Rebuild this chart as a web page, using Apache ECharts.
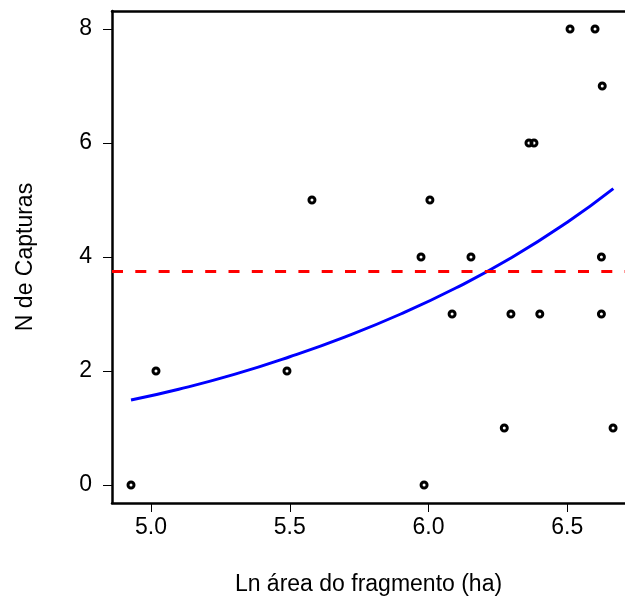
<!DOCTYPE html>
<html>
<head>
<meta charset="utf-8">
<script src="https://cdn.jsdelivr.net/npm/echarts@6/dist/echarts.min.js"></script>
<style>html,body{margin:0;padding:0;background:#fff}#c{width:625px;height:601px}</style>
</head>
<body>
<div id="c"></div>
<script>
// Observed points: Ln area (x) and number of captures (y)
var lnArea   = [4.928, 5.018, 5.490, 5.580, 5.973, 5.984, 6.005, 6.085, 6.153, 6.273, 6.297, 6.362, 6.380, 6.401, 6.510, 6.600, 6.623, 6.623, 6.626, 6.665];
var captures = [0,     2,     2,     5,     4,     0,     5,     3,     4,     1,     3,     6,     6,     3,     8,     8,     4,     3,     7,     1];
// Fitted curve
var curveX = [4.928, 5.1, 5.3, 5.5, 5.7, 5.9, 6.1, 6.3, 6.5, 6.666];
var curveY = [1.49, 1.68, 1.94, 2.25, 2.60, 3.00, 3.46, 3.99, 4.61, 5.20];
// Mean line
var meanCaptures = 3.75;
// Tick labels
var xTicks = [5.0, 5.5, 6.0, 6.5];
var yTicks = [0, 2, 4, 6, 8];

var FONT = 'Liberation Sans, Arial, sans-serif';
var chart = echarts.init(document.getElementById('c'), null, {renderer: 'canvas'});
var pts = lnArea.map(function (x, i) { return [x, captures[i]]; });
var curve = curveX.map(function (x, i) { return [x, curveY[i]]; });

chart.setOption({
  animation: false,
  backgroundColor: '#fff',
  grid: {left: 112, top: 11, right: 0, bottom: 98, containLabel: false},
  xAxis: [{
    type: 'value', min: 4.8595, max: 6.708, position: 'bottom',
    name: 'Ln área do fragmento (ha)', nameLocation: 'middle', nameGap: 70,
    nameTextStyle: {fontFamily: FONT, fontSize: 23, color: '#000'},
    axisLine: {show: true, onZero: false, lineStyle: {color: '#000', width: 2.5}},
    axisTick: {show: true, length: 9, customValues: xTicks, lineStyle: {color: '#000', width: 1}},
    axisLabel: {customValues: xTicks, margin: 13, fontFamily: FONT, fontSize: 23, color: '#000',
      formatter: function (v) { return v.toFixed(1); }},
    splitLine: {show: false}
  }, {
    type: 'value', min: 4.8595, max: 6.708, position: 'top',
    axisLine: {show: true, onZero: false, lineStyle: {color: '#000', width: 2.5}},
    axisTick: {show: false}, axisLabel: {show: false}, splitLine: {show: false}
  }],
  yAxis: [{
    type: 'value', min: -0.316, max: 8.316,
    name: 'N de Capturas', nameLocation: 'middle', nameGap: 75, nameRotate: 90,
    nameTextStyle: {fontFamily: FONT, fontSize: 23, color: '#000'},
    axisLine: {show: true, onZero: false, lineStyle: {color: '#000', width: 2.5}},
    axisTick: {show: true, length: 9, customValues: yTicks, lineStyle: {color: '#000', width: 1}},
    axisLabel: {customValues: yTicks, margin: 20, fontFamily: FONT, fontSize: 23, color: '#000'},
    splitLine: {show: false}
  }],
  series: [{
    type: 'line', data: curve, smooth: true, showSymbol: false,
    lineStyle: {color: '#0000ff', width: 3}, z: 3,
    markLine: {
      silent: true, symbol: ['none', 'none'], label: {show: false},
      lineStyle: {color: '#ff0000', width: 3, type: [11, 12.3]},
      data: [{yAxis: meanCaptures}]
    }
  }, {
    type: 'scatter', data: pts, symbol: 'circle', symbolSize: 6,
    itemStyle: {color: 'rgba(0,0,0,0)', borderColor: '#000', borderWidth: 3, opacity: 1}, z: 4
  }]
});
</script>
</body>
</html>
